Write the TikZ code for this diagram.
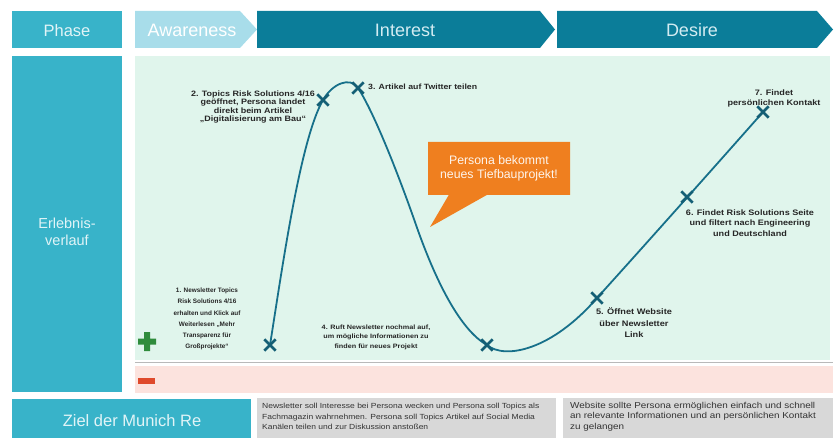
\documentclass[tikz,border=0pt]{standalone}
\usepackage{fontspec}
\setmainfont{Liberation Sans}
\newfontfamily\lblfont[FakeStretch=1.15]{Liberation Sans}
\usetikzlibrary{shapes.misc,shapes.callouts}

\definecolor{phasecyan}{HTML}{38B3C9}
\definecolor{awarelight}{HTML}{A8DDEA}
\definecolor{stagedark}{HTML}{0B7D99}
\definecolor{headtext}{HTML}{D3ECF2}
\definecolor{mint}{HTML}{E0F5EC}
\definecolor{blush}{HTML}{FCE3DE}
\definecolor{goalgray}{HTML}{D8D8D8}
\definecolor{pathteal}{HTML}{17708A}
\definecolor{calloutorange}{HTML}{EF7F1F}
\definecolor{plusgreen}{HTML}{2F8C3C}
\definecolor{minusred}{HTML}{DF4A2C}

\begin{document}
\begin{tikzpicture}[x=1pt, y=-1pt,
  headtxt/.style={inner sep=0pt, text=headtext, font=\fontsize{18}{20}\selectfont},
  rowtxt/.style={inner sep=0pt, align=center, text=white!85!phasecyan},
  steplabel/.style={inner sep=0pt, align=center, text=black!85},
  xmark/.style={cross out, draw=pathteal!85!black, line width=2.8pt, minimum size=8.5pt, inner sep=0pt},
  goaltxt/.style={inner sep=0pt, align=left, anchor=north west, text=black!80}]
  \useasboundingbox (0,0) rectangle (840,438);

  % phase header
  \fill[phasecyan] (12,11) rectangle (122,48);
  \node[headtxt, text=white!85!phasecyan, font=\fontsize{16.5}{18}\selectfont] (phase) at (67,30.5) {Phase};
  \fill[awarelight] (135,11) -- (240,11) -- (257,29.5) -- (240,48) -- (135,48) -- cycle;
  \node[headtxt, text=white] (aware) at (192,30.5) {Awareness};
  \fill[stagedark] (257,11) -- (540,11) -- (555,29.5) -- (540,48) -- (257,48) -- cycle;
  \node[headtxt] (interest) at (405,30.5) {Interest};
  \fill[stagedark] (557,11) -- (817,11) -- (833,29.5) -- (817,48) -- (557,48) -- cycle;
  \node[headtxt] (desire) at (692,30.5) {Desire};

  % experience area
  \fill[phasecyan] (12,56) rectangle (122,392);
  \node[rowtxt, font=\fontsize{14.5}{17}\selectfont] (erleb) at (67,232) {Erlebnis-\\verlauf};
  \fill[mint] (135,56) rectangle (830,360);
  \draw[gray!55, line width=0.8pt] (135,362) -- (833,362);
  \fill[blush] (135,366) rectangle (833,393);
  \fill[plusgreen] (138,338.5) rectangle (156,344.5) (144,332) rectangle (150,351);
  \fill[minusred] (138,378) rectangle (155,383.5);

  % goals
  \fill[phasecyan] (12,399) rectangle (251,438);
  \node[rowtxt, font=\fontsize{16.5}{18}\selectfont] (ziel) at (132,421) {Ziel der Munich Re};
  \fill[goalgray] (257,398) rectangle (556,438);
  \fill[goalgray] (563,398) rectangle (833,438);
  \node[goaltxt, font=\lblfont\fontsize{7.4}{10.5}\selectfont] (goal1) at (262,403)
    {Newsletter soll Interesse bei Persona wecken und Persona soll Topics als\\
     Fachmagazin wahrnehmen. Persona soll Topics Artikel auf Social Media\\
     Kanälen teilen und zur Diskussion anstoßen};
  \node[goaltxt, font=\lblfont\fontsize{8.6}{10.5}\selectfont] (goal2) at (570,402)
    {Website sollte Persona ermöglichen einfach und schnell\\
     an relevante Informationen und an persönlichen Kontakt\\
     zu gelangen};

  % journey
  \coordinate (p1) at (270,345);
  \coordinate (p2) at (323,100);
  \coordinate (p3) at (358,88);
  \coordinate (p4) at (487,345);
  \coordinate (p5) at (597,298);
  \coordinate (p6) at (687,197);
  \coordinate (p7) at (763,112);
  \coordinate (turn) at (415,222);
  \draw[pathteal, line width=1.8pt]
    (p1) .. controls (282,270) and (300,140) .. (p2)
         .. controls (332,84) and (350,76) .. (p3)
         .. controls (372,109) and (395,165) .. (turn)
         .. controls (435,280) and (460,330) .. (p4)
         .. controls (505,360) and (552,350) .. (p5)
         .. controls (645,245) and (725,155) .. (p7);
  \foreach \i in {1,...,7}
    \node[xmark] (m\i) at (p\i) {};

  \node[steplabel, font=\bfseries\fontsize{6.4}{11.2}\selectfont] (l1) at (207,319)
    {1. Newsletter Topics\\Risk Solutions 4/16\\erhalten und Klick auf\\Weiterlesen „Mehr\\Transparenz für\\Großprojekte“};
  \node[steplabel, font=\lblfont\bfseries\fontsize{7.8}{8.2}\selectfont] (l2) at (253,107)
    {2. Topics Risk Solutions 4/16\\geöffnet, Persona landet\\direkt beim Artikel\\„Digitalisierung am Bau“};
  \node[steplabel, anchor=west, font=\lblfont\bfseries\fontsize{7.6}{9}\selectfont] (l3) at (368,87)
    {3. Artikel auf Twitter teilen};
  \node[steplabel, font=\lblfont\bfseries\fontsize{6.3}{9.4}\selectfont] (l4) at (376,337)
    {4. Ruft Newsletter nochmal auf,\\um mögliche Informationen zu\\finden für neues Projekt};
  \node[steplabel, font=\lblfont\bfseries\fontsize{8}{11.5}\selectfont] (l5) at (634,323)
    {5. Öffnet Website\\über Newsletter\\Link};
  \node[steplabel, font=\lblfont\bfseries\fontsize{7.9}{10.6}\selectfont] (l6) at (750,223)
    {6. Findet Risk Solutions Seite\\und filtert nach Engineering\\und Deutschland};
  \node[steplabel, font=\lblfont\bfseries\fontsize{7.9}{10}\selectfont] (l7) at (774,98)
    {7. Findet\\persönlichen Kontakt};

  \node[rectangle callout, fill=calloutorange, text=white!92!calloutorange, align=center,
    minimum width=142pt, minimum height=53pt, inner sep=0pt,
    callout absolute pointer={(430,227)}, callout pointer width=38pt,
    font=\fontsize{12.3}{13.5}\selectfont] (news) at (499,168.5) {Persona bekommt\\neues Tiefbauprojekt!};
\end{tikzpicture}
\end{document}
